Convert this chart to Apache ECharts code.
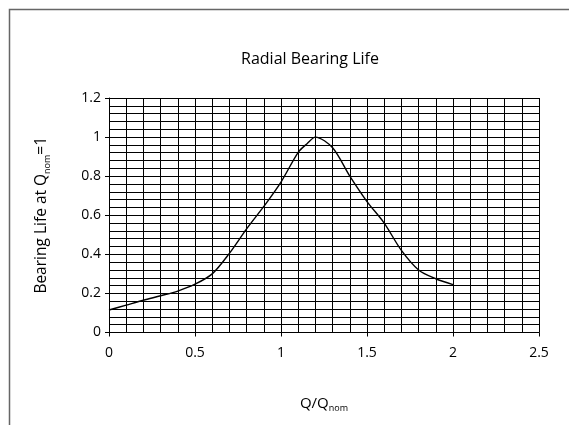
<!DOCTYPE html>
<html>
<head>
<meta charset="utf-8">
<script src="https://cdn.jsdelivr.net/npm/echarts@6/dist/echarts.min.js"></script>
<style>
html,body{margin:0;padding:0;background:#fff;}
#chart{width:569px;height:425px;}
</style>
</head>
<body>
<div id="chart"></div>
<script>
var xValues = [0, 0.1, 0.2, 0.3, 0.4, 0.5, 0.6, 0.7, 0.8, 0.9, 1.0, 1.1, 1.15, 1.2, 1.3, 1.4, 1.5, 1.6, 1.7, 1.8, 1.9, 2.0];
var yValues = [0.115, 0.14, 0.165, 0.188, 0.212, 0.247, 0.30, 0.405, 0.53, 0.645, 0.77, 0.922, 0.965, 1.0, 0.945, 0.80, 0.67, 0.56, 0.42, 0.32, 0.275, 0.245];
var titleText = 'Radial Bearing Life';
var xMin = 0, xMax = 2.5, xStep = 0.5;
var yMin = 0, yMax = 1.2, yStep = 0.2;

var fontFam = 'Open Sans';
var seriesData = xValues.map(function (x, i) { return [x, yValues[i]]; });

var chart = echarts.init(document.getElementById('chart'), null, {renderer: 'canvas'});
chart.setOption({
  animation: false,
  backgroundColor: '#fff',
  title: {
    text: titleText,
    left: 305, top: 46, textAlign: 'center',
    textStyle: {fontFamily: fontFam, fontSize: 16, fontWeight: 'normal', color: '#000'}
  },
  graphic: [{
    type: 'rect', silent: true,
    shape: {x: 9.5, y: 9.5, width: 700, height: 600},
    style: {fill: 'none', stroke: '#666', lineWidth: 1.5}
  }],
  grid: {left: 109, right: 30, top: 98, bottom: 92.5},
  xAxis: {
    type: 'value', min: xMin, max: xMax, interval: xStep,
    name: '{a|Q/Q}{s|nom}',
    nameLocation: 'middle', nameGap: 60,
    nameTextStyle: {
      rich: {
        a: {fontFamily: fontFam, fontSize: 15, color: '#000', lineHeight: 22},
        s: {fontFamily: fontFam, fontSize: 9, color: '#000', lineHeight: 22, padding: [10, 0, 0, 0]}
      }
    },
    axisLine: {show: true, lineStyle: {color: '#000', width: 1}},
    axisTick: {show: true, length: 4, lineStyle: {color: '#000'}},
    axisLabel: {fontFamily: fontFam, fontSize: 14, color: '#000', margin: 14},
    splitLine: {show: true, lineStyle: {color: '#000', width: 1}},
    minorTick: {show: false, splitNumber: 5},
    minorSplitLine: {show: true, lineStyle: {color: '#000', width: 1}}
  },
  yAxis: {
    type: 'value', min: yMin, max: yMax, interval: yStep,
    name: '{a|Bearing Life at Q}{s|nom}{a|=1}',
    nameLocation: 'middle', nameGap: 56, nameRotate: 90,
    nameTextStyle: {
      rich: {
        a: {fontFamily: fontFam, fontSize: 15.5, color: '#000', lineHeight: 22},
        s: {fontFamily: fontFam, fontSize: 9, color: '#000', lineHeight: 22, padding: [10, 0, 0, 0]}
      }
    },
    axisLine: {show: true, lineStyle: {color: '#000', width: 1}},
    axisTick: {show: true, length: 4, lineStyle: {color: '#000'}},
    axisLabel: {fontFamily: fontFam, fontSize: 14, color: '#000', margin: 8},
    splitLine: {show: true, lineStyle: {color: '#000', width: 1}},
    minorTick: {show: false, splitNumber: 5},
    minorSplitLine: {show: true, lineStyle: {color: '#000', width: 1}}
  },
  series: [{
    type: 'line',
    data: seriesData,
    smooth: 0.3,
    showSymbol: false,
    lineStyle: {color: '#000', width: 1.4}
  }]
});
</script>
</body>
</html>
